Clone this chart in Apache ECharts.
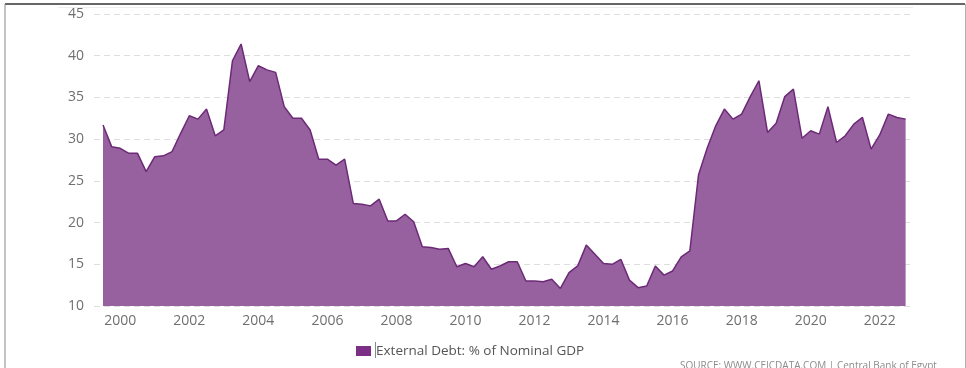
<!DOCTYPE html>
<html>
<head>
<meta charset="utf-8">
<script src="https://cdn.jsdelivr.net/npm/echarts@6/dist/echarts.min.js"></script>
<style>
  html, body { margin: 0; padding: 0; background: #fff; }
  #chart { width: 966px; height: 368px; }
</style>
</head>
<body>
<div id="chart"></div>
<script>
// Quarterly periods (quarter end)
const quarters = [
  '1999Q2','1999Q3','1999Q4',
  '2000Q1','2000Q2','2000Q3','2000Q4',
  '2001Q1','2001Q2','2001Q3','2001Q4',
  '2002Q1','2002Q2','2002Q3','2002Q4',
  '2003Q1','2003Q2','2003Q3','2003Q4',
  '2004Q1','2004Q2','2004Q3','2004Q4',
  '2005Q1','2005Q2','2005Q3','2005Q4',
  '2006Q1','2006Q2','2006Q3','2006Q4',
  '2007Q1','2007Q2','2007Q3','2007Q4',
  '2008Q1','2008Q2','2008Q3','2008Q4',
  '2009Q1','2009Q2','2009Q3','2009Q4',
  '2010Q1','2010Q2','2010Q3','2010Q4',
  '2011Q1','2011Q2','2011Q3','2011Q4',
  '2012Q1','2012Q2','2012Q3','2012Q4',
  '2013Q1','2013Q2','2013Q3','2013Q4',
  '2014Q1','2014Q2','2014Q3','2014Q4',
  '2015Q1','2015Q2','2015Q3','2015Q4',
  '2016Q1','2016Q2','2016Q3','2016Q4',
  '2017Q1','2017Q2','2017Q3','2017Q4',
  '2018Q1','2018Q2','2018Q3','2018Q4',
  '2019Q1','2019Q2','2019Q3','2019Q4',
  '2020Q1','2020Q2','2020Q3','2020Q4',
  '2021Q1','2021Q2','2021Q3','2021Q4',
  '2022Q1','2022Q2','2022Q3'
];

// External Debt: % of Nominal GDP
const externalDebtPctGDP = [
  31.7, 29.1, 28.9,
  28.3, 28.3, 26.1, 27.9,
  28.0, 28.5, 30.7, 32.8,
  32.4, 33.6, 30.4, 31.1,
  39.4, 41.4, 36.9, 38.8,
  38.3, 38.0, 33.9, 32.5,
  32.5, 31.1, 27.6, 27.6,
  26.9, 27.6, 22.3, 22.2,
  22.0, 22.8, 20.2, 20.2,
  21.0, 20.1, 17.1, 17.0,
  16.8, 16.9, 14.7, 15.1,
  14.7, 15.9, 14.4, 14.8,
  15.3, 15.3, 13.0, 13.0,
  12.9, 13.2, 12.1, 14.0,
  14.8, 17.3, 16.2, 15.1,
  15.0, 15.6, 13.1, 12.2,
  12.4, 14.8, 13.7, 14.2,
  15.9, 16.6, 25.7, 28.9,
  31.6, 33.6, 32.4, 33.0,
  35.1, 37.0, 30.8, 31.9,
  35.1, 36.0, 30.1, 31.0,
  30.6, 33.9, 29.6, 30.4,
  31.8, 32.6, 28.8, 30.5,
  33.0, 32.6, 32.4
];

const xTickYears = [2000, 2002, 2004, 2006, 2008, 2010, 2012, 2014, 2016, 2018, 2020, 2022];
const yTicks = [10, 15, 20, 25, 30, 35, 40, 45];

const seriesName = 'External Debt: % of Nominal GDP';
const sourceText = 'SOURCE: WWW.CEICDATA.COM | Central Bank of Egypt';

function quarterToYear(q) {
  const y = parseInt(q.slice(0, 4), 10);
  const n = parseInt(q.slice(5), 10);
  return y + n / 4;
}

const seriesData = quarters.map((q, i) => [quarterToYear(q), externalDebtPctGDP[i]]);

const chart = echarts.init(document.getElementById('chart'), null, { renderer: 'canvas' });

const labelFont = 'Open Sans';

chart.setOption({
  animation: false,
  backgroundColor: '#ffffff',
  grid: { left: 94, right: 53, top: 14, bottom: 62, containLabel: false },
  xAxis: {
    type: 'value',
    min: 1999.239,
    max: 2022.964,
    axisLine: { show: false },
    axisTick: { show: false },
    splitLine: { show: false },
    axisLabel: {
      customValues: xTickYears,
      color: '#6f6f6f',
      fontSize: 14,
      fontFamily: labelFont,
      margin: 8,
      formatter: v => String(Math.round(v))
    }
  },
  yAxis: {
    type: 'value',
    min: yTicks[0],
    max: yTicks[yTicks.length - 1],
    interval: 5,
    axisLine: { show: false },
    axisTick: { show: false },
    axisLabel: {
      color: '#6f6f6f',
      fontSize: 14,
      fontFamily: labelFont,
      margin: 10
    },
    splitLine: {
      show: true,
      lineStyle: { color: '#dedede', type: [6, 4], width: 1 }
    }
  },
  legend: {
    show: true,
    left: 356,
    top: 344,
    padding: 0,
    itemWidth: 15,
    itemHeight: 10,
    itemGap: 10,
    icon: 'rect',
    textStyle: { color: '#555555', fontSize: 13.5, fontFamily: labelFont, padding: [0, 0, 0, 0] },
    data: [seriesName]
  },
  series: [{
    name: seriesName,
    type: 'line',
    data: seriesData,
    showSymbol: false,
    symbol: 'none',
    itemStyle: { color: '#7b2f85' },
    lineStyle: { color: '#6c2a76', width: 1.5 },
    areaStyle: { color: '#9761a0', opacity: 1 },
    emphasis: { disabled: true }
  }],
  graphic: [
    { type: 'line', shape: { x1: 5, y1: 4, x2: 965, y2: 4 }, style: { stroke: '#666666', lineWidth: 2 }, silent: true },
    { type: 'line', shape: { x1: 5, y1: 4, x2: 5, y2: 368 }, style: { stroke: '#8a8a8a', lineWidth: 1 }, silent: true },
    { type: 'line', shape: { x1: 965.5, y1: 4, x2: 965.5, y2: 368 }, style: { stroke: '#b0b0b0', lineWidth: 1 }, silent: true },
    { type: 'line', shape: { x1: 58, y1: 7.5, x2: 913, y2: 7.5 }, style: { stroke: '#eeeeee', lineWidth: 1 }, silent: true },
    { type: 'line', shape: { x1: 375.5, y1: 342, x2: 375.5, y2: 358 }, style: { stroke: '#888888', lineWidth: 1 }, silent: true },
    {
      type: 'text', left: 680, top: 361, silent: true,
      style: { text: sourceText, fill: '#8c8c8c', font: '10px "Open Sans"' }
    }
  ]
});
</script>
</body>
</html>
